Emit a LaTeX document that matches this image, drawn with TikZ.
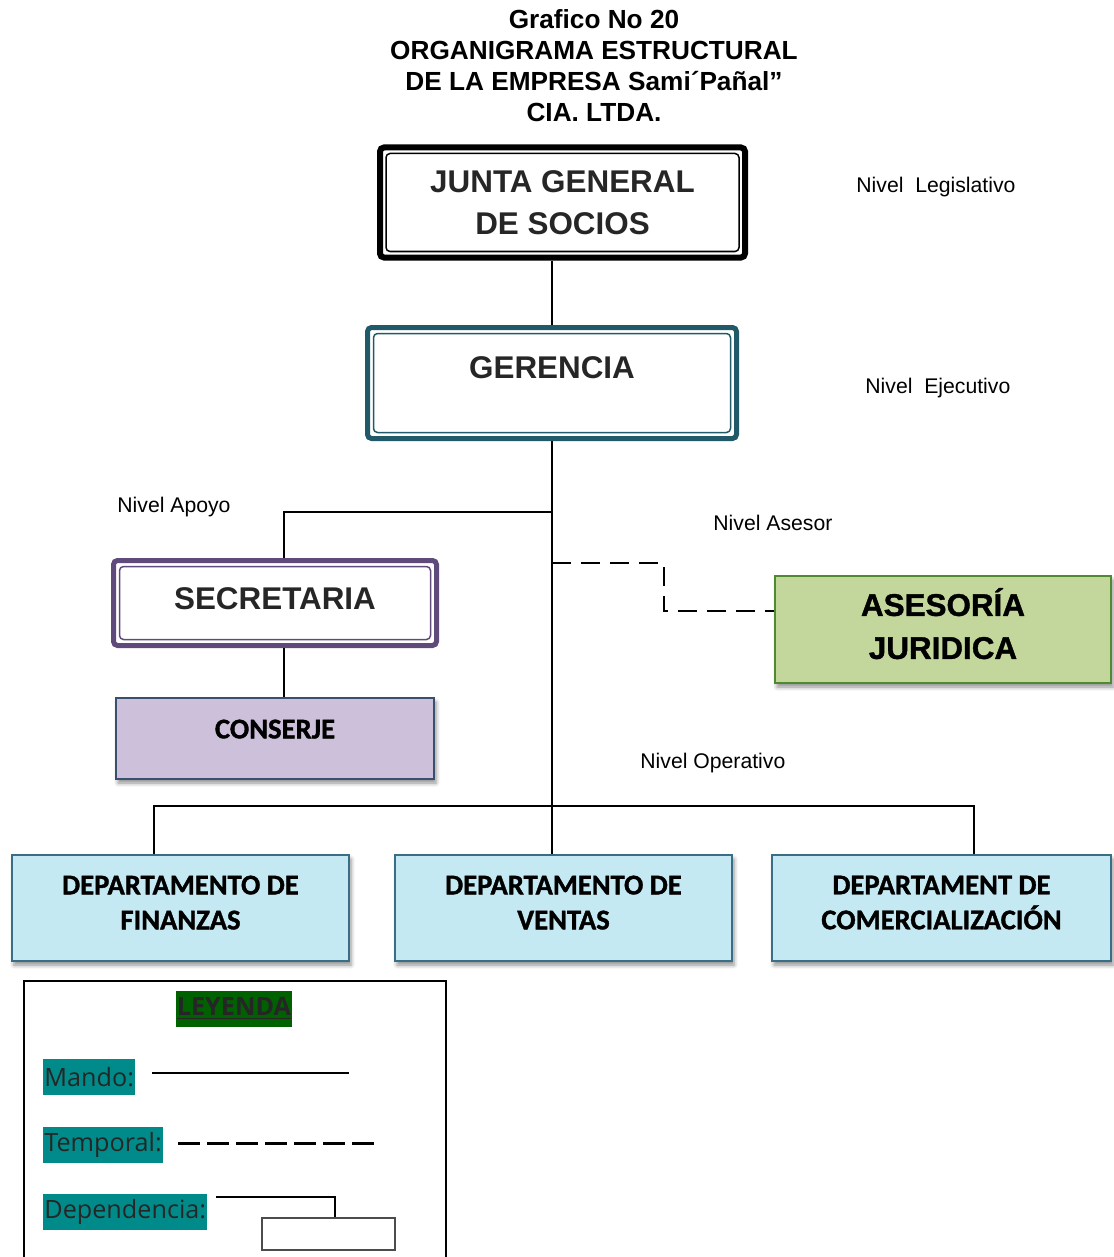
\documentclass[tikz,border=0pt]{standalone}
\usepackage{fontspec}
\setmainfont{Liberation Sans}
\newfontfamily\carlito{Carlito}[BoldFeatures={FakeBold=1.2}]
\newfontfamily\arialgr{Liberation Sans}[BoldFeatures={FakeBold=1.2}]
\newfontfamily\opensans{Open Sans}
\usepackage{tikz}
\usetikzlibrary{shadows.blur}

\definecolor{texto}{RGB}{38,38,38}
\definecolor{gerbor}{RGB}{33,89,104}
\definecolor{secbor}{RGB}{96,74,123}
\definecolor{conrel}{RGB}{204,192,218}
\definecolor{conbor}{RGB}{56,80,110}
\definecolor{asrel}{RGB}{195,214,155}
\definecolor{asbor}{RGB}{79,138,48}
\definecolor{deprel}{RGB}{197,233,243}
\definecolor{depbor}{RGB}{58,110,135}
\definecolor{verdeley}{RGB}{0,97,0}
\definecolor{tealley}{RGB}{0,139,138}

\tikzset{
  marco/.style={draw=#1, line width=2.5pt, rounded corners=2pt, inner sep=0pt, align=center, text=texto,
    font=\fontsize{15.7}{21}\selectfont\bfseries,
    path picture={\draw[#1, line width=0.75pt] ([shift={(3pt,-3pt)}]path picture bounding box.north west) rectangle ([shift={(-3pt,3pt)}]path picture bounding box.south east);}},
  caja/.style={draw=#1, line width=1pt, inner sep=0pt, align=center,
    font=\carlito\fontsize{14.3}{17.5}\selectfont\bfseries,
    blur shadow={shadow xshift=1pt, shadow yshift=-2pt, shadow blur radius=2pt, shadow opacity=45}},
  nivel/.style={inner sep=0pt, anchor=west, font=\fontsize{10.6}{13}\selectfont},
  ley/.style={fill=tealley, text=texto, inner xsep=0.5pt, inner ysep=0pt, minimum height=18pt,
    font=\opensans\fontsize{12.6}{15}\selectfont},
  mando/.style={line width=1pt},
  temporal/.style={line width=1pt, dash pattern=on 9.5pt off 5pt}
}

\begin{document}
\begin{tikzpicture}[x=0.5pt, y=-0.5pt]
\useasboundingbox (0,0) rectangle (1113,1257);

\node[font=\fontsize{13.1}{15.5}\selectfont\bfseries, align=center] (titulo) at (594,66)
  {Grafico No 20\\ORGANIGRAMA ESTRUCTURAL\\DE LA EMPRESA Sami´Pañal”\\CIA. LTDA.};

\node[marco=black, line width=3pt, minimum width=182.5pt, minimum height=55pt] (junta) at (562.5,202.5) {JUNTA GENERAL\\DE SOCIOS};
\node[marco=gerbor, minimum width=184.5pt, minimum height=55.5pt] (gerencia) at (552,383) {GERENCIA\\[-6pt]~};
\node[marco=secbor, text depth=4pt, minimum width=161.5pt, minimum height=42.5pt] (secretaria) at (275,603) {SECRETARIA};
\node[caja=conbor, fill=conrel, minimum width=159pt, minimum height=40.5pt] (conserje) at (275,738.5) {CONSERJE\\[-8pt]~};
\node[caja=asbor, fill=asrel, font=\arialgr\fontsize{15.7}{21.5}\selectfont\bfseries, text depth=6pt, minimum width=168pt, minimum height=53.5pt] (asesoria) at (943,629.5) {ASESORÍA\\JURIDICA};

\node[caja=depbor, fill=deprel, text depth=5.5pt, minimum width=168.5pt, minimum height=53pt] (finanzas) at (180.5,908) {DEPARTAMENTO DE\\FINANZAS};
\node[caja=depbor, fill=deprel, text depth=5.5pt, minimum width=168.5pt, minimum height=53pt] (ventas) at (563.5,908) {DEPARTAMENTO DE\\VENTAS};
\node[caja=depbor, fill=deprel, text depth=5.5pt, minimum width=169.5pt, minimum height=53pt] (comercial) at (941.5,908) {DEPARTAMENT DE\\COMERCIALIZACIÓN};

\node[nivel] (nleg) at (856,187) {Nivel\ \ Legislativo};
\node[nivel] (neje) at (865,388) {Nivel\ \ Ejecutivo};
\node[nivel] (napo) at (117,507) {Nivel Apoyo};
\node[nivel] (nase) at (713,523) {Nivel Asesor};
\node[nivel] (nope) at (640,763) {Nivel Operativo};

\coordinate (apoyo) at (284,512);
\coordinate (ases1) at (664,563);
\coordinate (ases2) at (664,611);
\coordinate (opi) at (154,806);
\coordinate (opd) at (974,806);

\draw[mando] (junta.south -| gerencia.north) -- (gerencia.north);
\draw[mando] (gerencia.south) -- (gerencia.south |- ventas.north);
\draw[mando] (gerencia.south |- apoyo) -- (apoyo) -- (apoyo |- secretaria.north);
\draw[mando] (apoyo |- secretaria.south) -- (apoyo |- conserje.north);
\draw[temporal] (gerencia.south |- ases1) -- (ases1) -- (ases2) -- (ases2 -| asesoria.west);
\draw[mando] (opi |- finanzas.north) -- (opi) -- (opd) -- (opd |- comercial.north);

\node[draw, line width=1pt, anchor=north west, minimum width=211pt, minimum height=160pt] (leyenda) at (23,980) {};
\node[ley, fill=verdeley, font=\opensans\fontsize{12.6}{15}\selectfont\bfseries] (titley) at (234,1008.5) {\underline{LEYENDA}};
\node[ley, anchor=west] (lmando) at (43,1077) {Mando:};
\node[ley, anchor=west] (ltemp) at (43,1145) {Temporal:};
\node[ley, anchor=west] (ldep) at (43,1212) {Dependencia:};
\coordinate (dep1) at (216,1197);
\coordinate (dep2) at (335,1197);
\node[draw=black!70, line width=0.75pt, minimum width=66.5pt, minimum height=16pt, inner sep=0pt] (depcaja) at (328.5,1234) {};

\draw[mando, line width=1.2pt] ([xshift=8.5pt, yshift=2pt]lmando.east) -- +(98.5pt,0);
\draw[temporal, line width=1.5pt, dash pattern=on 10.8pt off 3.7pt] ([xshift=7.5pt, yshift=1pt]ltemp.east) -- +(98pt,0);
\draw[mando] (dep1) -- (dep2) -- (dep2 |- depcaja.north);
\end{tikzpicture}
\end{document}
